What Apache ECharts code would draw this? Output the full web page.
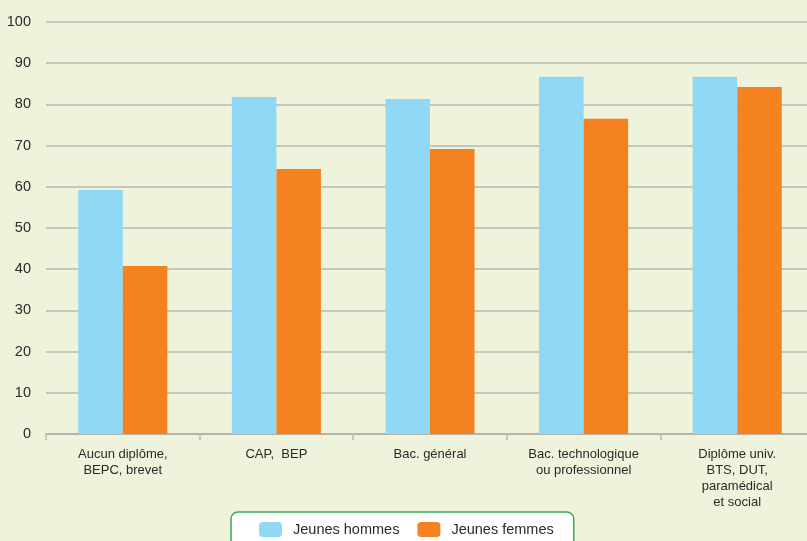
<!DOCTYPE html>
<html><head><meta charset="utf-8">
<script src="https://cdn.jsdelivr.net/npm/echarts@6/dist/echarts.min.js"></script>
<style>html,body{margin:0;padding:0;background:#f0f3dc;overflow:hidden;}#c{width:814px;height:541px;}</style>
</head><body><div id="c"></div>
<script>
const categories = ["Aucun diplôme,\nBEPC, brevet", "CAP,  BEP", "Bac. général", "Bac. technologique\nou professionnel", "Diplôme univ.\nBTS, DUT,\nparamédical\net social"];
const hommes = [59.2, 81.8, 81.3, 86.7, 86.7];
const femmes = [40.8, 64.3, 69.2, 76.5, 84.2];
const yTicks = [0, 10, 20, 30, 40, 50, 60, 70, 80, 90, 100];
const font = "'Liberation Sans Narrow', 'Arial Narrow', 'Liberation Sans', sans-serif";
const chart = echarts.init(document.getElementById('c'));
chart.setOption({
  backgroundColor: '#f0f3dc',
  animation: false,
  textStyle: {fontFamily: font},
  grid: {left: 46, right: 0, top: 22, height: 412, containLabel: false},
  legend: {
    data: ['Jeunes hommes', 'Jeunes femmes'],
    left: 231, top: 512,
    backgroundColor: '#ffffff', borderColor: '#3aa85c', borderWidth: 1.5, borderRadius: 7,
    padding: [10, 20, 20, 28],
    itemWidth: 23, itemHeight: 15, itemGap: 18,
    textStyle: {fontFamily: font, fontSize: 14.5, color: '#2a2a2a', padding: [0, 0, 0, 6]}
  },
  xAxis: {
    type: 'category', data: categories,
    axisLine: {lineStyle: {color: '#b4b4ac', width: 2}},
    axisTick: {show: true, length: 6, lineStyle: {color: '#c8c8c0', width: 2}},
    axisLabel: {fontFamily: font, fontSize: 13, color: '#2a2a2a', lineHeight: 16, margin: 12, interval: 0}
  },
  yAxis: {
    type: 'value', min: yTicks[0], max: yTicks[yTicks.length - 1], interval: 10,
    axisLine: {show: false}, axisTick: {show: false},
    axisLabel: {fontFamily: font, fontSize: 14.5, color: '#2a2a2a', margin: 15},
    splitLine: {lineStyle: {color: '#b8b8b0', width: 1.5}}
  },
  series: [
    {name: 'Jeunes hommes', type: 'bar', data: hommes, itemStyle: {color: '#8fd9f7'}, barGap: '0%', barCategoryGap: '42%'},
    {name: 'Jeunes femmes', type: 'bar', data: femmes, itemStyle: {color: '#f58220'}, barGap: '0%', barCategoryGap: '42%'}
  ]
});
</script></body></html>
